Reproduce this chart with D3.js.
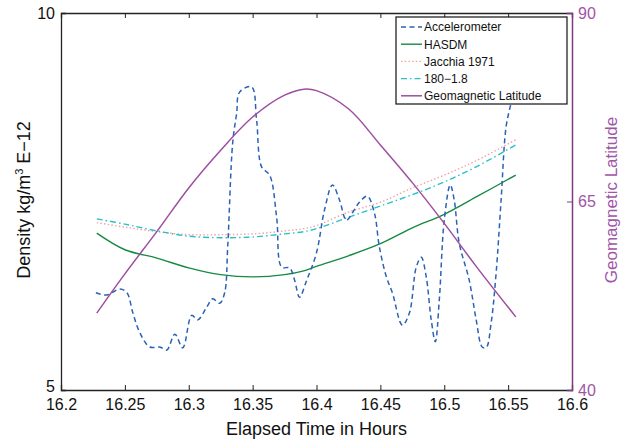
<!DOCTYPE html>
<html>
<head>
<meta charset="utf-8">
<script src="https://cdn.jsdelivr.net/npm/d3@7/dist/d3.min.js"></script>
<style>
  html, body { margin: 0; padding: 0; background: #fff; }
  svg { display: block; font-family: "Liberation Sans", Arial, Helvetica, sans-serif; }
</style>
</head>
<body>
<svg id="chart" width="621" height="443"></svg>
<script>
// Accelerometer-derived density (kg/m^3 E-12)
const accelTime = [16.2273, 16.2359, 16.2461, 16.2516, 16.2563, 16.2617, 16.2695, 16.2773, 16.2828, 16.2891,
  16.2953, 16.3023, 16.3070, 16.3141, 16.3188, 16.3242, 16.3281, 16.3305, 16.3344, 16.3375,
  16.3398, 16.3492, 16.3531, 16.3570, 16.3633, 16.3688, 16.3727, 16.3789, 16.3828, 16.3867,
  16.3922, 16.4000, 16.4063, 16.4125, 16.4180, 16.4234, 16.4281, 16.4336, 16.4398, 16.4453,
  16.4492, 16.4547, 16.4594, 16.4672, 16.4727, 16.4781, 16.4820, 16.4859, 16.4898, 16.4930,
  16.4961, 16.5000, 16.5047, 16.5078, 16.5117, 16.5195, 16.5250, 16.5297, 16.5328, 16.5367,
  16.5406, 16.5445, 16.5484, 16.5523, 16.5555];
const accelDensity = [6.29, 6.26, 6.34, 6.29, 6.02, 5.76, 5.57, 5.57, 5.53, 5.74,
  5.56, 5.99, 5.93, 6.10, 6.21, 6.15, 6.29, 6.90, 8.28, 8.67,
  8.95, 9.02, 8.58, 7.96, 7.85, 7.29, 6.63, 6.62, 6.46, 6.23,
  6.45, 6.82, 7.39, 7.72, 7.52, 7.25, 7.35, 7.49, 7.57, 7.35,
  6.90, 6.50, 6.29, 5.86, 6.02, 6.63, 6.76, 6.50, 5.93, 5.64,
  6.19, 7.25, 7.72, 7.52, 6.95, 6.46, 5.93, 5.57, 5.56, 5.89,
  6.55, 7.52, 8.49, 8.81, 9.11];

// Model densities and geomagnetic latitude on a common time grid
const modelTime = [16.228, 16.25, 16.275, 16.30, 16.325, 16.35, 16.375, 16.39, 16.40, 16.425,
  16.45, 16.475, 16.50, 16.525, 16.556];
const hasdm = [7.08, 6.86, 6.75, 6.62, 6.53, 6.50, 6.53, 6.58, 6.64, 6.78,
  6.94, 7.15, 7.33, 7.56, 7.85];
const jacchia = [7.22, 7.16, 7.10, 7.06, 7.06, 7.07, 7.11, 7.14, 7.18, 7.36,
  7.49, 7.68, 7.85, 8.04, 8.32];
const model180 = [7.27, 7.20, 7.11, 7.04, 7.02, 7.03, 7.07, 7.10, 7.14, 7.29,
  7.44, 7.59, 7.76, 7.96, 8.25];
const geoLat = [50.2, 55.4, 61.0, 66.8, 71.8, 76.2, 79.1, 79.9, 79.7, 77.3,
  72.5, 67.5, 62.1, 56.4, 49.7];

// Axis ticks
const xTicks = [16.2, 16.25, 16.3, 16.35, 16.4, 16.45, 16.5, 16.55, 16.6];
const leftTicks = [5, 10];
const rightTicks = [40, 65, 90];

const legendLabels = ["Accelerometer", "HASDM", "Jacchia 1971", "180\u22121.8", "Geomagnetic Latitude"];

const C = {
  accel: "#2a62b4",
  hasdm: "#168a42",
  jacchia: "#f3a3a3",
  m180: "#26c2c6",
  lat: "#9c4fa0",
  rightAxis: "#7e3a80",
  rightText: "#a055a6"
};

const svg = d3.select("#chart");
const L = 61, R = 572, T = 13, B = 390;

const x = d3.scaleLinear().domain([16.2, 16.6]).range([L, R]);
const yL = d3.scaleLinear().domain([5, 10]).range([B, T]);
const yR = d3.scaleLinear().domain([40, 90]).range([B, T]);

// Series lines
const curve = d3.curveCatmullRom.alpha(0.5);
const lineL = d3.line().x(d => x(d[0])).y(d => yL(d[1])).curve(curve);
const lineR = d3.line().x(d => x(d[0])).y(d => yR(d[1])).curve(curve);

const zip = (a, b) => a.map((v, i) => [v, b[i]]);

const series = [
  { data: zip(modelTime, jacchia), line: lineL, color: C.jacchia, dash: "1.5,2.2", w: 1.4 },
  { data: zip(modelTime, model180), line: lineL, color: C.m180, dash: "6,3,1.5,3", w: 1.4 },
  { data: zip(modelTime, hasdm), line: lineL, color: C.hasdm, dash: null, w: 1.4 },
  { data: zip(accelTime, accelDensity), line: lineL, color: C.accel, dash: "5,3.5", w: 1.5 },
  { data: zip(modelTime, geoLat), line: lineR, color: C.lat, dash: null, w: 1.5 }
];

const plot = svg.append("g");
series.forEach(s => {
  plot.append("path")
    .attr("d", s.line(s.data))
    .attr("fill", "none")
    .attr("stroke", s.color)
    .attr("stroke-width", s.w)
    .attr("stroke-dasharray", s.dash);
});

// Frame: bottom, top and left axes in black
const axisColor = "#222";
const gx = svg.append("g").attr("transform", `translate(0,${B})`)
  .call(d3.axisBottom(x).tickValues(xTicks).tickSize(-5).tickPadding(9).tickFormat(d3.format("")));
gx.select(".domain").attr("stroke", axisColor).attr("stroke-width", 1.3);
gx.selectAll(".tick line").attr("stroke", axisColor);
gx.selectAll(".tick text").attr("font-size", 16).attr("fill", "#111").attr("font-family", "Liberation Sans, Arial, sans-serif");

const gxt = svg.append("g").attr("transform", `translate(0,${T})`)
  .call(d3.axisTop(x).tickValues(xTicks).tickSize(-5).tickFormat(""));
gxt.select(".domain").attr("stroke", axisColor).attr("stroke-width", 1.3);
gxt.selectAll(".tick line").attr("stroke", axisColor);

const gyl = svg.append("g").attr("transform", `translate(${L},0)`)
  .call(d3.axisLeft(yL).tickValues(leftTicks).tickSize(-5).tickPadding(6).tickFormat(d3.format("d")));
gyl.select(".domain").attr("stroke", axisColor).attr("stroke-width", 1.3);
gyl.selectAll(".tick line").attr("stroke", axisColor);
gyl.selectAll(".tick text").attr("font-size", 16).attr("fill", "#111").attr("font-family", "Liberation Sans, Arial, sans-serif")
  .attr("dy", d => d === 5 ? "0.1em" : "0.32em");

// Right axis for latitude
const gyr = svg.append("g").attr("transform", `translate(${R},0)`)
  .call(d3.axisRight(yR).tickValues(rightTicks).tickSize(-5).tickPadding(6));
gyr.select(".domain").attr("stroke", C.rightAxis).attr("stroke-width", 1.5);
gyr.selectAll(".tick line").attr("stroke", C.rightAxis);
gyr.selectAll(".tick text").attr("font-size", 16).attr("fill", C.rightText).attr("font-family", "Liberation Sans, Arial, sans-serif");

// Axis titles
svg.append("text")
  .attr("x", (L + R) / 2).attr("y", 435)
  .attr("text-anchor", "middle").attr("font-size", 18).attr("fill", "#111")
  .text("Elapsed Time in Hours");

const yt = svg.append("text")
  .attr("transform", "translate(30,200) rotate(-90)")
  .attr("text-anchor", "middle").attr("font-size", 18).attr("fill", "#111");
yt.append("tspan").text("Density kg/m");
yt.append("tspan").attr("font-size", 11).attr("dy", -7).text("3");
yt.append("tspan").attr("dy", 7).text(" E\u221212");

svg.append("text")
  .attr("transform", "translate(617,200) rotate(-90)")
  .attr("text-anchor", "middle").attr("font-size", 17).attr("fill", C.rightText)
  .text("Geomagnetic Latitude");

// Legend
const lg = svg.append("g");
lg.append("rect")
  .attr("x", 396).attr("y", 17).attr("width", 171).attr("height", 87)
  .attr("fill", "#fff").attr("stroke", "#111").attr("stroke-width", 1.2);
const legendStyles = [series[3], series[2], series[0], series[1], series[4]];
legendLabels.forEach((lab, i) => {
  const yy = 27 + i * 17.2;
  const s = legendStyles[i];
  lg.append("line")
    .attr("x1", 401).attr("x2", 422).attr("y1", yy).attr("y2", yy)
    .attr("stroke", s.color).attr("stroke-width", s.w).attr("stroke-dasharray", s.dash);
  lg.append("text")
    .attr("x", 424).attr("y", yy).attr("dy", "0.36em")
    .attr("font-size", 12).attr("fill", "#111")
    .text(lab);
});
</script>
</body>
</html>
